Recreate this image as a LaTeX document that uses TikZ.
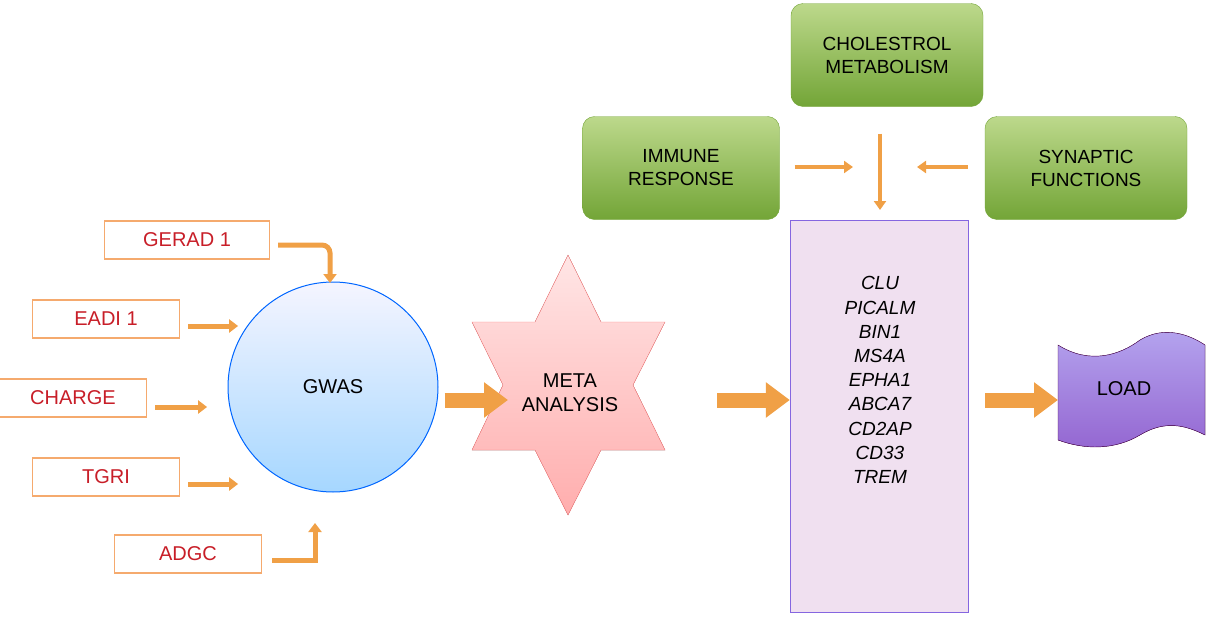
\documentclass[tikz,border=0pt]{standalone}
\usepackage{fontspec}
\setmainfont{Liberation Sans}
\usetikzlibrary{arrows.meta,shapes.geometric}
\definecolor{arr}{RGB}{240,160,70}
\definecolor{red1}{RGB}{200,30,40}
\definecolor{obox}{RGB}{245,170,110}
\definecolor{gr1}{RGB}{160,200,90}
\definecolor{gr2}{RGB}{115,165,55}
\begin{document}
\begin{tikzpicture}[x=1pt,y=-1pt,
  src/.style={draw=obox,line width=1.2pt,fill=white,minimum width=147pt,minimum height=38pt,font=\fontsize{20}{24}\selectfont,text=red1},
  grn/.style={rounded corners=12pt,draw=gr2,top color=gr1!70!white,bottom color=gr2,minimum height=103pt,font=\fontsize{19}{23}\selectfont,align=center},
  sa/.style={draw=arr,line width=5pt,-{Triangle[width=13pt,length=9pt]}},
  fa/.style={draw=arr,line width=15pt,-{Triangle[width=34pt,length=24pt]}},
  ta/.style={draw=arr,line width=4.5pt,-{Triangle[width=12pt,length=9pt]}}]
\useasboundingbox (0,0) rectangle (1211,621);
\node[src,minimum width=165pt] (gerad) at (187,240) {GERAD 1};
\node[src] (eadi) at (106,319) {EADI 1};
\node[src] (charge) at (73,398) {CHARGE};
\node[src] (tgri) at (106,477) {TGRI};
\node[src] (adgc) at (188,554) {ADGC};
\node[circle,draw=blue!60!cyan,line width=1pt,minimum size=210pt,top color=blue!4,bottom color=blue!45!cyan!35!white,font=\fontsize{20}{24}\selectfont] (gwas) at (333,387) {GWAS};
\filldraw[draw=red!50,top color=red!10,bottom color=red!32]
 (568,255) -- (601,322) -- (665,322) -- (633,385) -- (665,450) -- (601,450) -- (568,515)
 -- (535,450) -- (472,450) -- (503,385) -- (472,322) -- (535,322) -- cycle;
\node[font=\fontsize{20}{24}\selectfont,align=center] (metat) at (570,393) {META\\ANALYSIS};
\node[draw=violet!40!blue!60,fill=violet!12,minimum width=178pt,minimum height=392pt,inner sep=0pt] (genes) at (879,416) {};
\node[font=\fontsize{19}{24.2}\selectfont\itshape,align=center] (glist) at (880,380) {CLU\\PICALM\\BIN1\\MS4A\\EPHA1\\ABCA7\\CD2AP\\CD33\\TREM};
\node[grn,minimum width=192pt] (chol) at (887,55) {CHOLESTROL\\METABOLISM};
\node[grn,minimum width=197pt] (imm) at (681,168) {IMMUNE\\RESPONSE};
\node[grn,minimum width=202pt] (syn) at (1086,168) {SYNAPTIC\\FUNCTIONS};
\filldraw[draw=violet!60!black,top color=violet!35!blue!35!white,bottom color=violet!60!blue!60!white]
 (1058,345) .. controls (1090,365) and (1120,355) .. (1140,340) .. controls (1165,325) and (1190,335) .. (1205,345)
 -- (1205,435) .. controls (1185,425) and (1165,420) .. (1140,435) .. controls (1115,450) and (1085,450) .. (1058,440) -- cycle;
\node[font=\fontsize{20}{24}\selectfont] (load) at (1124,389) {LOAD};
\coordinate (ld) at (1058,400);
\coordinate (g1) at (330,245);
\draw[sa,rounded corners=8pt] (gerad.east |- 0,245) ++(8,0) -- (g1) -- (330,283);
\draw[sa] (eadi.east) ++(8,7) -- ++(50,0);
\draw[sa] (charge.east) ++(8,9) -- ++(52,0);
\draw[sa] (tgri.east) ++(8,7) -- ++(50,0);
\draw[sa] (adgc.east) ++(10,6) -- (315,560) -- (315,523);
\draw[fa] (gwas.east |- 0,400) ++(6,0) -- (508,400);
\draw[fa] (717,400) -- (genes.west |- 0,400);
\draw[fa] (genes.east |- 0,400) ++(17,0) -- (ld);
\draw[ta] (imm.east |- 0,167) ++(15,0) -- (853,167);
\draw[ta] (syn.west |- 0,167) ++(-17,0) -- (917,167);
\draw[ta] (chol.south -| 880,0) ++(0,27) -- (880,210);
\end{tikzpicture}
\end{document}
